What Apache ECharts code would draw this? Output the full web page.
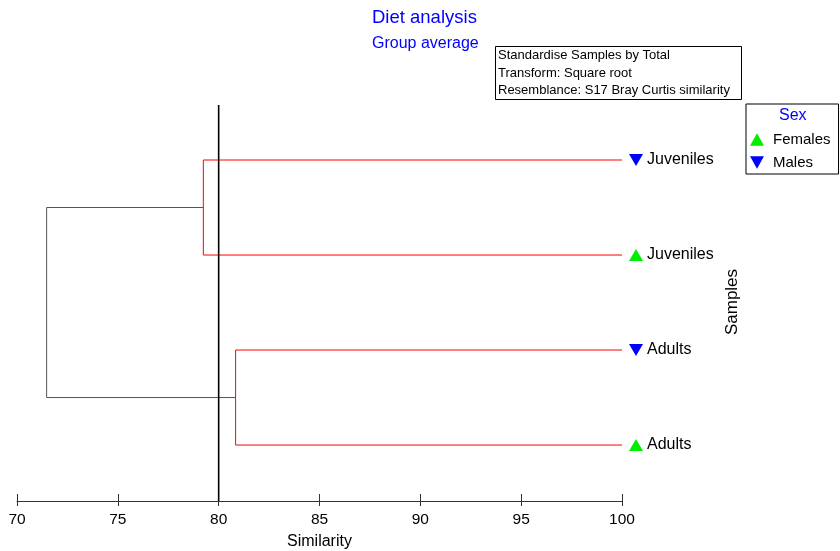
<!DOCTYPE html>
<html><head><meta charset="utf-8">
<script src="https://cdn.jsdelivr.net/npm/echarts@6/dist/echarts.min.js"></script>
<style>html,body{margin:0;padding:0;background:#fff;overflow:hidden}#c{width:840px;height:551px}</style>
</head><body><div id="c"></div>
<script>
// ---- data ----
const leafLabels = ['Juveniles', 'Juveniles', 'Adults', 'Adults'];
const leafSex = ['Males', 'Females', 'Males', 'Females'];
const leafPos = [1, 2, 3, 4];
const juvenileMerge = 79.24;
const adultMerge = 80.84;
const rootMerge = 71.47;
const cutSimilarity = 80;
const xTicks = [70, 75, 80, 85, 90, 95, 100];
const sexGroups = ['Females', 'Males'];
const infoLines = ['Standardise Samples by Total', 'Transform: Square root', 'Resemblance: S17 Bray Curtis similarity'];

const FONT = 'Liberation Sans, Arial, sans-serif';
const yMin = 0.421, yMax = 4.589;
const RED = '#ff0000', GREY = '#555555';
const upTri = 'path://M5,0L10,9L0,9Z';
const downTri = 'path://M0,0L10,0L5,9Z';

function seg(points, color) {
  return { type: 'line', data: points, symbol: 'none', silent: true,
    lineStyle: { color: color, width: 1 }, z: 2, animation: false };
}
const juvMid = (leafPos[0] + leafPos[1]) / 2;
const adMid = (leafPos[2] + leafPos[3]) / 2;
const series = [
  seg([[100, leafPos[0]], [juvenileMerge, leafPos[0]], [juvenileMerge, leafPos[1]], [100, leafPos[1]]], RED),
  seg([[100, leafPos[2]], [adultMerge, leafPos[2]], [adultMerge, leafPos[3]], [100, leafPos[3]]], RED),
  seg([[juvenileMerge, juvMid], [rootMerge, juvMid], [rootMerge, adMid], [adultMerge, adMid]], GREY),
  { type: 'line', data: [[cutSimilarity, yMin], [cutSimilarity, yMax]], symbol: 'none', silent: true,
    lineStyle: { color: '#000', width: 1.6 }, z: 3, animation: false }
];
sexGroups.forEach(function (sex) {
  const pts = [];
  leafSex.forEach(function (s, i) { if (s === sex) pts.push({ value: [100, leafPos[i]], label: { formatter: leafLabels[i] } }); });
  series.push({
    type: 'scatter', name: sex, data: pts,
    symbol: sex === 'Females' ? upTri : downTri,
    symbolSize: [14, 12], symbolOffset: [14, 0],
    itemStyle: { color: sex === 'Females' ? '#00ee00' : '#0000ff', opacity: 1 },
    label: { show: true, position: 'right', distance: 4, color: '#000', fontSize: 16, fontFamily: FONT },
    z: 5, animation: false
  });
});

const chart = echarts.init(document.getElementById('c'));
chart.setOption({
  animation: false,
  backgroundColor: '#fff',
  title: [
    { text: 'Diet analysis', subtext: 'Group average', left: 372, top: 8, itemGap: 9,
      textStyle: { color: '#0000ff', fontSize: 18.5, fontWeight: 'normal', fontFamily: FONT },
      subtextStyle: { color: '#0000ff', fontSize: 16, fontFamily: FONT }, padding: 0 },
    { text: infoLines.join('\n'), left: 495, top: 46, borderColor: '#000', borderWidth: 1,
      padding: [1, 12, 0, 3],
      textStyle: { color: '#000', fontSize: 13, fontWeight: 'normal', fontFamily: FONT, lineHeight: 17.5 } },
    { text: 'Sex', left: 779, top: 108, padding: 0,
      textStyle: { color: '#0000ff', fontSize: 16, fontWeight: 'normal', fontFamily: FONT } }
  ],
  legend: {
    data: sexGroups, orient: 'vertical', left: 746, top: 104,
    padding: [28, 8, 4, 4], itemGap: 8, itemWidth: 14, itemHeight: 13,
    borderColor: '#000', borderWidth: 1,
    textStyle: { color: '#000', fontSize: 15, fontFamily: FONT, padding: [0, 0, 0, 4] }
  },
  grid: { left: 17, right: 218, top: 105, height: 396, containLabel: false, outerBoundsMode: 'none' },
  xAxis: [
    { type: 'value', min: 70, max: 100, interval: 5, position: 'bottom',
      axisLine: { show: true, lineStyle: { color: '#333', width: 1 } },
      axisTick: { show: true, inside: false, length: 5, lineStyle: { color: '#333' } },
      axisLabel: { color: '#000', fontSize: 15.5, fontFamily: FONT, margin: 11,
        formatter: function (v) { return xTicks.indexOf(v) >= 0 ? String(v) : ''; } },
      splitLine: { show: false },
      name: 'Similarity', nameLocation: 'middle', nameGap: 33,
      nameTextStyle: { color: '#000', fontSize: 16, fontFamily: FONT } },
    { type: 'value', min: 70, max: 100, interval: 5, position: 'bottom',
      axisLine: { show: false },
      axisTick: { show: true, inside: true, length: 7, lineStyle: { color: '#333' } },
      axisLabel: { show: false }, splitLine: { show: false } }
  ],
  yAxis: { type: 'value', min: yMin, max: yMax, inverse: true, show: false },
  graphic: [
    { type: 'text', x: 732, y: 302, rotation: Math.PI / 2,
      style: { text: 'Samples', fill: '#000', fontSize: 17, fontFamily: FONT, align: 'center', verticalAlign: 'middle' } }
  ],
  series: series
});
</script>
</body></html>
